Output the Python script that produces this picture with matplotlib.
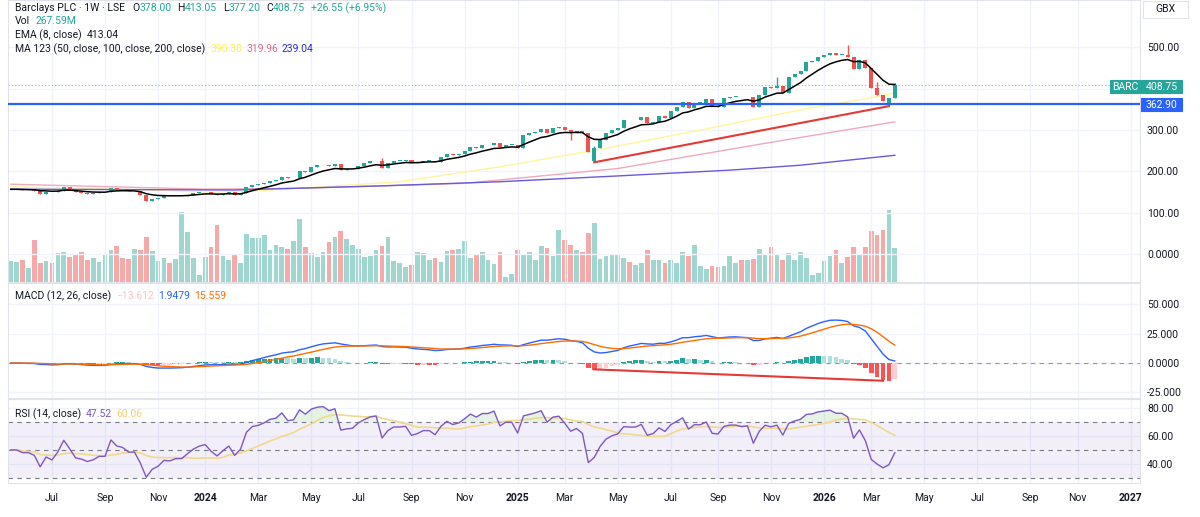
import numpy as np
import pandas as pd
import matplotlib
matplotlib.use('Agg')
import matplotlib.pyplot as plt
from matplotlib.patches import Rectangle

plt.rcParams['font.family'] = ['Roboto', 'DejaVu Sans']

# weekly bars, first Monday of the series
first_week = '2023-05-15'

close = [156.6, 156.6, 155, 155, 153.5, 146, 151, 149, 153.5, 161.4,
         156, 149, 148, 146, 147, 149, 149, 159.8, 156, 155,
         152, 152, 144, 129, 134, 136, 140, 139.5, 141, 141,
         144, 147, 149, 150, 146, 143, 146, 149, 143, 147,
         161.4, 168, 169.5, 172.7, 177.5, 179, 187.3, 183, 184, 201.7,
         199, 210, 214.7, 216.4, 214, 218, 203.4, 205, 206, 214,
         219.5, 224.3, 226, 209, 220, 226, 226, 227, 219.6, 222,
         226, 226, 223, 234, 242, 239.7, 242, 249, 258, 256,
         263, 263, 268, 258, 264, 264, 256, 288, 292, 296,
         302, 292, 304, 306.5, 300, 292, 297, 292, 248, 256,
         276, 292, 300, 305, 324.5, 324, 324, 331, 316, 320,
         334, 329, 347, 357, 369, 353, 366, 366, 374.5, 358,
         357, 377, 381, 381, 379, 381, 357, 385, 403.5, 401,
         406, 390.6, 427.6, 437, 443.8, 465.6, 468, 477.7, 481.8, 486,
         482, 482, 477.7, 447, 469.7, 449.6, 401, 385, 371, 378, 408.75]

# millions of shares
volume = [164, 156, 174, 112, 325, 150, 164, 150, 229, 234,
          195, 216, 234, 172, 190, 158, 216, 250, 278, 185,
          179, 257, 247, 351, 242, 164, 185, 148, 177, 546,
          390, 190, 52, 195, 275, 445, 205, 169, 221, 146,
          377, 341, 343, 364, 250, 289, 271, 257, 320, 494,
          275, 226, 195, 236, 310, 353, 398, 333, 291, 260,
          195, 203, 250, 281, 353, 164, 150, 119, 133, 234,
          229, 172, 190, 156, 244, 250, 260, 320, 185, 211,
          234, 172, 143, 236, 39, 62, 247, 216, 234, 172,
          281, 268, 203, 406, 328, 289, 250, 236, 385, 458,
          182, 203, 218, 211, 187, 156, 133, 146, 247, 169,
          172, 146, 172, 148, 234, 200, 291, 122, 99, 125,
          119, 125, 203, 148, 172, 172, 182, 255, 221, 275,
          216, 169, 224, 169, 234, 185, 55, 70, 164, 200,
          247, 148, 195, 271, 221, 271, 398, 369, 408, 559, 268]

# bars whose open / wick differ from the plain body
open_fix = {99: 224.0, 149: 362.0}
high_fix = {63: 232.0, 99: 262.0, 130: 429.0, 142: 505.0, 147: 417.0, 150: 413.05}
low_fix = {95: 276.0, 99: 222.0, 149: 358.0, 150: 377.2}

# moving averages (bar index, value)
ma50_at = [0, 20, 33, 41, 66, 83, 101, 117, 134, 147, 150]
ma50 = [163, 156, 150, 152, 175, 211, 256, 300, 349, 381, 390.3]
ma100_at = [0, 33, 49, 63, 77, 103, 128, 150]
ma100 = [169, 157, 159, 165, 171, 207, 268, 320]
ma200_at = [0, 38, 63, 83, 103, 122, 134, 150]
ma200 = [157, 155, 165, 175, 189, 203, 215, 239]

support = 362.90
trend_at = [99, 149]
trend = [222.0, 358.0]
macd_trend_at = [99, 148]
macd_trend = [-5.4, -15.1]

W, H = 1200, 517
UP, DN = '#26a69a', '#ef5350'
TXT = '#131722'

n = len(close)
x = np.arange(n)
c = np.array(close, dtype=float)
o = np.r_[c[0], c[:-1]]
for k, v in open_fix.items():
    o[k] = v
hi = np.maximum(o, c)
lo = np.minimum(o, c)
for k, v in high_fix.items():
    hi[k] = v
for k, v in low_fix.items():
    lo[k] = v
up = c >= o
col = np.where(up, UP, DN)

cs = pd.Series(c)
ema8 = cs.ewm(span=8, adjust=False).mean()
macd = cs.ewm(span=12, adjust=False).mean() - cs.ewm(span=26, adjust=False).mean()
sig = macd.ewm(span=9, adjust=False).mean()
hist = (macd - sig).values
prev = np.r_[hist[0], hist[:-1]]
hcol = np.where(hist >= 0, np.where(hist > prev, '#26a69a', '#b2dfdb'),
                np.where(hist < prev, '#ff5252', '#ffcdd2'))

# Wilder RSI, warm-started at a neutral level
chg = np.diff(c)
ag = al = np.abs(chg[:14]).mean() / 2
rsi = [50.0]
for v in chg:
    ag = (ag * 13 + max(v, 0)) / 14
    al = (al * 13 + max(-v, 0)) / 14
    rsi.append(100 - 100 / (1 + ag / al))
rsi = np.array(rsi)
rsi_ma = pd.Series(rsi).rolling(14, min_periods=1).mean()

dates = pd.date_range(first_week, periods=n, freq='7D')
months = pd.date_range('2023-07-01', '2027-01-01', freq='2MS')
tick_at = [int(np.ceil((m - dates[0]).days / 7)) for m in months]
tick_lab = [str(m.year) if m.month == 1 else m.strftime('%b') for m in months]

fig = plt.figure(figsize=(12, 5.17), dpi=100)


def pane(top, bottom):
    return fig.add_axes([8/W, 1 - bottom/H, 1132/W, (bottom - top)/H])


ax = pane(0, 282)
axm = pane(283, 398)
axr = pane(399, 483)

# volume under the price
axv = ax.twinx()
axv.set_ylim(0, 2200)
axv.bar(x, volume, width=0.8, color=np.where(up, '#9fd6cf', '#f5a9a8'))
axv.set_yticks([])
for s in axv.spines.values():
    s.set_visible(False)
ax.set_zorder(axv.get_zorder() + 1)
ax.patch.set_visible(False)

for a in (ax, axm, axr):
    a.set_xlim(-0.46, 191.6)
    a.set_xticks(tick_at)
    a.grid(True, color='#f0f3fa', lw=1)
    a.set_axisbelow(True)
    a.yaxis.tick_right()
    a.tick_params(length=0, labelsize=7.5, colors=TXT, pad=5)
    a.tick_params(axis='x', labelbottom=False)
    for s in a.spines.values():
        s.set_color('#e0e3eb')

# price pane
ax.set_ylim(-67.8, 615)
ax.set_yticks([0, 100, 200, 300, 400, 500])
ax.set_yticklabels(['0.0000', '100.00', '200.00', '300.00', '', '500.00'])
ax.plot(ma50_at, ma50, color='#fff59d', lw=1, zorder=2)
ax.plot(ma100_at, ma100, color='#eeaabf', lw=1, zorder=2)
ax.plot(ma200_at, ma200, color='#6a5ad8', lw=1, zorder=2)
ax.vlines(x, lo, hi, color=col, lw=1, zorder=3)
ax.bar(x, np.maximum(np.abs(c - o), 1.5), bottom=np.minimum(o, c), width=0.68,
       color=col, zorder=3)
ax.plot(x, ema8, color='#000000', lw=1.1, zorder=4)
ax.axhline(support, color='#2962ff', lw=1.6, zorder=5)
ax.axhline(c[-1], color=UP, lw=0.8, ls=(0, (1, 2)), alpha=0.6, zorder=1)
ax.plot(trend_at, trend, color='#e53935', lw=1.5, zorder=5)

# MACD pane
axm.set_ylim(-29.8, 68.2)
axm.set_yticks([-25, 0, 25, 50])
axm.set_yticklabels(['-25.000', '0.0000', '25.000', '50.000'])
axm.axhline(0, color='#9598a1', lw=0.8, ls=(0, (4, 4)))
axm.bar(x, hist, width=0.8, color=hcol, zorder=2)
axm.plot(x, macd, color='#2962ff', lw=1, zorder=3)
axm.plot(x, sig, color='#ff6d00', lw=1, zorder=3)
axm.plot(macd_trend_at, macd_trend, color='#e53935', lw=1.5, zorder=4)

# RSI pane
axr.set_ylim(26.4, 86.4)
axr.set_yticks([40, 60, 80])
axr.set_yticklabels(['40.00', '60.00', '80.00'])
axr.axhspan(30, 70, color='#7e57c2', alpha=0.09, lw=0)
for lv in (30, 50, 70):
    axr.axhline(lv, color='#787b86', lw=0.8, ls=(0, (4, 4)))
axr.fill_between(x, rsi, 70, where=rsi > 70, color='#4caf50', alpha=0.15,
                 interpolate=True, lw=0)
axr.plot(x, rsi_ma, color='#f0d98c', lw=1.2)
axr.plot(x, rsi, color='#7e57c2', lw=1)
axr.tick_params(axis='x', labelbottom=True, pad=7)
axr.set_xticklabels(tick_lab)
for t, lab in zip(axr.get_xticklabels(), tick_lab):
    if lab.isdigit():
        t.set_fontweight('bold')

# legends
r = fig.canvas.get_renderer()


def legend(x0, y0, parts, size=7.5):
    xx = x0
    for s, cl, gap in parts:
        t = fig.text(xx/W, 1 - y0/H, s, color=cl, fontsize=size, va='center', ha='left')
        xx += t.get_window_extent(r).width + gap


legend(15, 8, [('Barclays PLC · 1W · LSE', TXT, 7),
               ('O', TXT, 0), ('378.00', UP, 6), ('H', TXT, 0), ('413.05', UP, 6),
               ('L', TXT, 0), ('377.20', UP, 6), ('C', TXT, 0), ('408.75', UP, 6),
               ('+26.55 (+6.95%)', UP, 0)])
legend(15, 21.5, [('Vol', TXT, 5), ('267.59M', UP, 0)])
legend(15, 35, [('EMA (8, close)', TXT, 5), ('413.04', TXT, 0)])
legend(15, 49, [('MA 123 (50, close, 100, close, 200, close)', TXT, 5),
                ('390.30', '#ffee58', 4), ('319.96', '#d96a8a', 4), ('239.04', '#2b2bd0', 0)])
legend(15, 296, [('MACD (12, 26, close)', TXT, 5), ('\u221213.612', '#f7c5c8', 4),
                 ('1.9479', '#2962ff', 4), ('15.559', '#ff6d00', 0)])
legend(15, 414, [('RSI (14, close)', TXT, 5), ('47.52', '#7e57c2', 4), ('60.06', '#f0d070', 0)])


def tag(x0, x1, y0, y1, s, fc, tc='white', ec=None):
    fig.add_artist(Rectangle((x0/W, 1 - y1/H), (x1 - x0)/W, (y1 - y0)/H,
                             transform=fig.transFigure, facecolor=fc,
                             edgecolor=ec if ec else fc, lw=0.8, zorder=5))
    fig.text((x0 + x1)/2/W, 1 - (y0 + y1)/2/H, s, color=tc, fontsize=7.5,
             ha='center', va='center', zorder=6)


tag(1110, 1140, 80, 93, 'BARC', UP)
tag(1141, 1182, 80, 93, '%.2f' % c[-1], UP)
tag(1141, 1182, 98, 111, '%.2f' % support, '#2962ff')
tag(1143, 1188, 1, 18, 'GBX', 'white', TXT, '#e0e3eb')

fig.savefig('out.png', dpi=100, facecolor='white')
